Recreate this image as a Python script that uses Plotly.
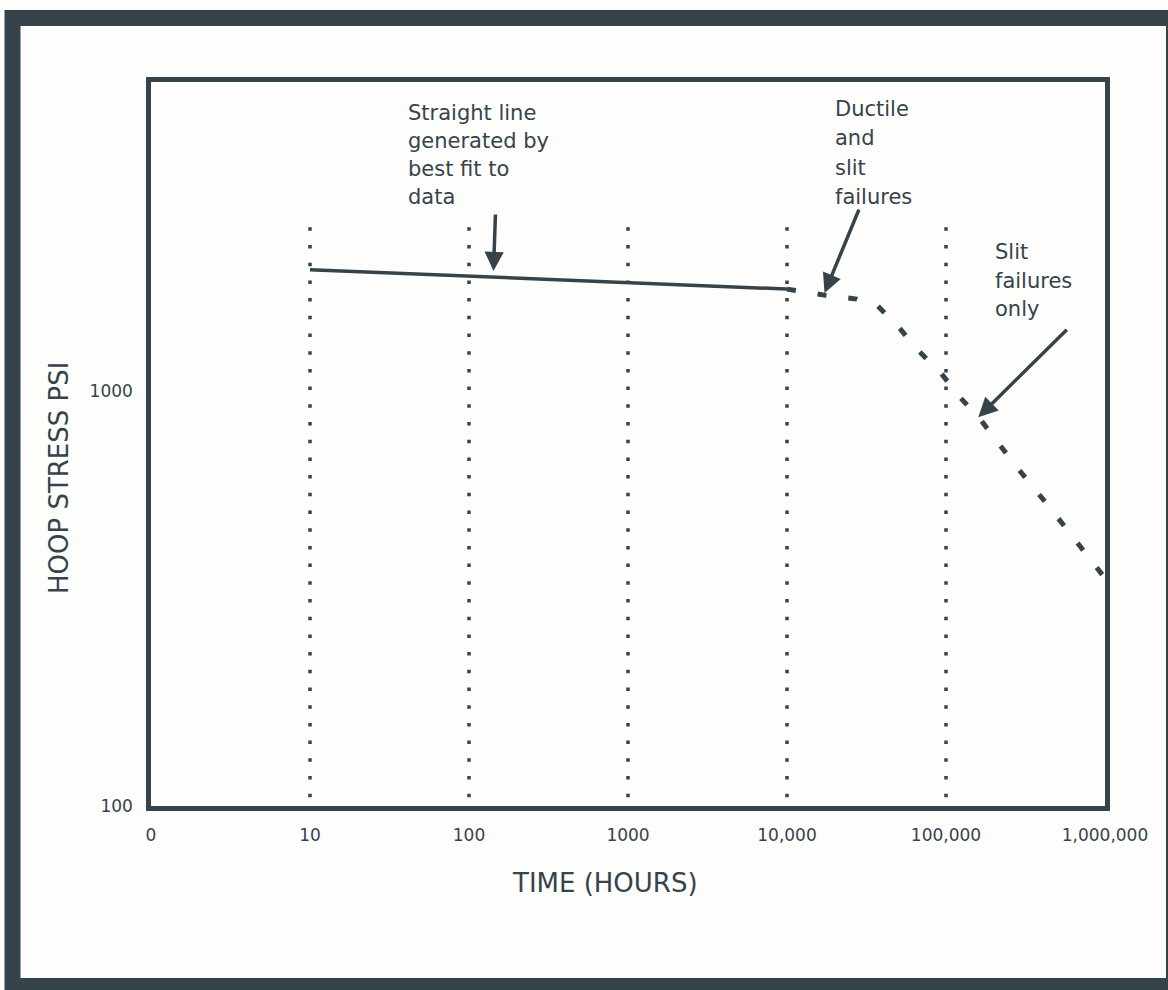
import plotly.graph_objects as go

# ---- data -------------------------------------------------------------
# Best-fit regression line (hours, hoop stress psi)
fit_hours = [10, 10000]
fit_psi = [1960, 1760]

# Extrapolated region: ductile + slit failures, then slit failures only
extrap_hours = [10000, 17500, 27500, 37400, 50900, 68300, 92900,
                122000, 162000, 272000, 462000, 776000, 1000000]
extrap_psi = [1760, 1700, 1665, 1600, 1418, 1242, 1105,
              967, 861, 663, 517, 400, 354]

# Dotted decade markers
grid_hours = [10, 100, 1000, 10000, 100000]
grid_psi_top = 2480
grid_psi_bottom = 100

# Axis ticks
x_tickvals = [1, 10, 100, 1000, 10000, 100000, 1000000]
x_ticktext = ["0", "10", "100", "1000", "10,000", "100,000", "1,000,000"]
y_tickvals = [100, 1000]
y_ticktext = ["100", "1000"]

# ---- styling ----------------------------------------------------------
INK = "#36434b"
FONT = "DejaVu Sans"
W, H = 1168, 990
L, R, T, B = 151, 1105, 82, 806   # plot area edges in px


def px(xp):
    return (xp - L) / (R - L)


def py(yp):
    return (B - yp) / (B - T)


fig = go.Figure()

# dotted vertical markers at each decade
gx, gy = [], []
for h in grid_hours:
    gx += [h, h, None]
    gy += [grid_psi_top, grid_psi_bottom, None]
fig.add_trace(go.Scatter(
    x=gx, y=gy, mode="lines",
    line=dict(color=INK, width=3.5, dash="3.5px,14.2px"),
    hoverinfo="skip", showlegend=False,
))

# best-fit straight line
fig.add_trace(go.Scatter(
    x=fit_hours, y=fit_psi, mode="lines",
    line=dict(color=INK, width=3.5),
    hoverinfo="skip", showlegend=False,
))

# extrapolated dashed curve
fig.add_trace(go.Scatter(
    x=extrap_hours, y=extrap_psi, mode="lines",
    line=dict(color=INK, width=5, dash="9px,22px"),
    hoverinfo="skip", showlegend=False,
))

annotations = []

# callout text, one annotation per line
blocks = [
    (406, [(113, "Straight line"), (141, "generated by"),
           (169, "best fit to"), (197, "data")]),
    (833, [(109, "Ductile"), (138, "and"), (168, "slit"), (197, "failures")]),
    (993, [(252, "Slit"), (281, "failures"), (309, "only")]),
]
for xp, lines in blocks:
    for yp, txt in lines:
        annotations.append(dict(
            text=txt, xref="paper", yref="paper", x=px(xp), y=py(yp),
            xanchor="left", yanchor="middle", showarrow=False,
            font=dict(family=FONT, size=21, color=INK),
        ))

# arrows (tip in log-axis units, tail as pixel offset)
arrows = [
    (2.154, 3.289, 2, -58),
    (4.236, 3.236, 35, -85),
    (5.203, 2.937, 90, -89),
]
for ax_, ay_, dx, dy in arrows:
    annotations.append(dict(
        text="", x=ax_, y=ay_, xref="x", yref="y",
        showarrow=True, ax=dx, ay=dy, axref="pixel", ayref="pixel",
        arrowhead=2, arrowsize=1.1, arrowwidth=3.5, arrowcolor=INK,
        standoff=0, startstandoff=0,
    ))

# axis titles
annotations.append(dict(
    text="TIME (HOURS)", xref="paper", yref="paper",
    x=px(605), y=py(883), xanchor="center", yanchor="middle",
    showarrow=False, font=dict(family=FONT, size=26, color=INK),
))
annotations.append(dict(
    text="HOOP STRESS PSI", xref="paper", yref="paper",
    x=px(59), y=py(478), xanchor="center", yanchor="middle",
    textangle=-90, showarrow=False,
    font=dict(family=FONT, size=26, color=INK),
))

# outer page frame
shapes = [dict(
    type="rect", xref="paper", yref="paper", layer="above",
    x0=px(12.5), x1=px(1174), y0=py(986), y1=py(18),
    line=dict(color=INK, width=16), fillcolor="rgba(0,0,0,0)",
)]

axis_common = dict(
    showgrid=False, zeroline=False, showline=True, mirror=True,
    linecolor=INK, linewidth=4.5, ticks="",
    tickfont=dict(family=FONT, size=17, color=INK),
    ticklabelstandoff=10,
)

fig.update_layout(
    width=W, height=H, autosize=False,
    margin=dict(l=L, r=W - R, t=T, b=H - B),
    paper_bgcolor="#fdfdfc", plot_bgcolor="#fdfdfc",
    xaxis=dict(type="log", range=[0, 6], tickvals=x_tickvals,
               ticktext=x_ticktext, **axis_common),
    yaxis=dict(type="log", range=[2, 2 + (B - T) / 415],
               tickvals=y_tickvals, ticktext=y_ticktext, **axis_common),
    annotations=annotations,
    shapes=shapes,
    showlegend=False,
    hovermode=False,
)

fig.write_html("out.html")
